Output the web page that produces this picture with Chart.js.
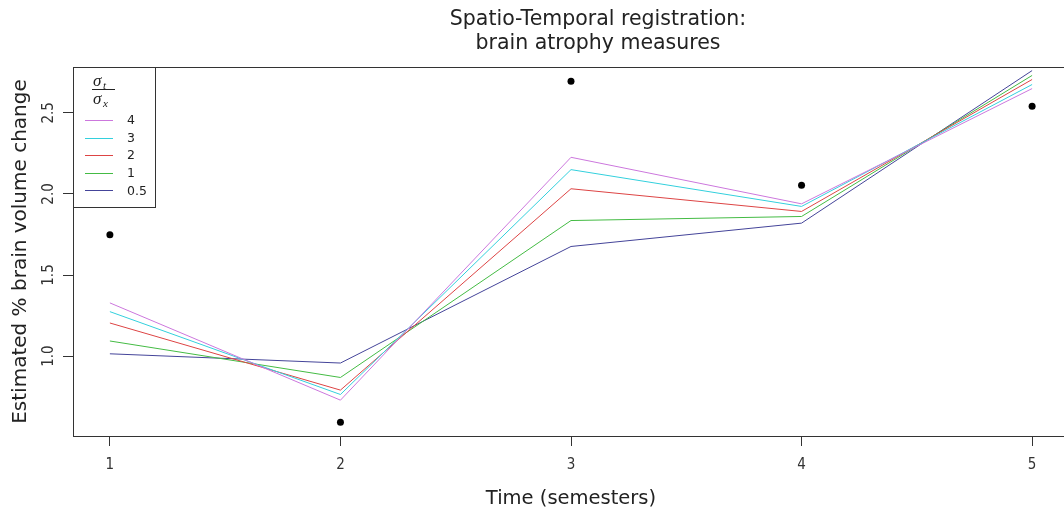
<!DOCTYPE html>
<html><head><meta charset="utf-8">
<script src="https://cdn.jsdelivr.net/npm/chart.js@4/dist/chart.umd.min.js"></script>
<style>html,body{margin:0;padding:0;overflow:hidden;background:#fff}#wrap{position:absolute;left:0;top:0;width:1070px;height:511px}canvas{display:block}</style>
</head><body><div id="wrap"><canvas id="c" width="1070" height="511" style="width:1070px;height:511px"></canvas></div>
<script>
const titleLines = ['Spatio-Temporal registration:', 'brain atrophy measures'];
const xTitle = 'Time (semesters)';
const yTitle = 'Estimated % brain volume change';
const semesters = [1, 2, 3, 4, 5];
const xTicks = [1, 2, 3, 4, 5];
const yTicks = [1.0, 1.5, 2.0, 2.5];
const observed = [1.748, 0.592, 2.695, 2.053, 2.541];
const seriesLabels = ['4', '3', '2', '1', '0.5'];
const seriesColors = ['#cc77dd', '#33d0dd', '#dd4444', '#44bb44', '#444499'];
const s4  = [1.328, 0.728, 2.226, 1.939, 2.650];
const s3  = [1.274, 0.763, 2.150, 1.923, 2.675];
const s2  = [1.204, 0.790, 2.032, 1.892, 2.706];
const s1  = [1.093, 0.868, 1.836, 1.861, 2.731];
const s05 = [1.014, 0.957, 1.676, 1.820, 2.761];
const seriesValues = [s4, s3, s2, s1, s05];

const pts = vals => vals.map((v, i) => ({x: semesters[i], y: v}));

const datasets = seriesValues.map((vals, k) => ({
  label: seriesLabels[k], data: pts(vals), showLine: true, tension: 0,
  borderColor: seriesColors[k], borderWidth: 1, pointRadius: 0, fill: false
}));
datasets.push({
  label: 'observed', data: pts(observed), showLine: false,
  pointRadius: 3.5, pointBackgroundColor: '#000', pointBorderWidth: 0, borderColor: '#000'
});

const FONT = '"DejaVu Sans", sans-serif';
const NARROW = '"Liberation Sans Narrow", "DejaVu Sans Condensed", sans-serif';

const decor = {
  id: 'decor',
  afterDraw(chart) {
    const {ctx, chartArea: a} = chart;
    ctx.save();
    // title
    ctx.fillStyle = '#222';
    ctx.font = '20.5px ' + FONT;
    ctx.textAlign = 'center';
    ctx.textBaseline = 'alphabetic';
    ctx.fillText(titleLines[0], 598, 25);
    ctx.fillText(titleLines[1], 598, 49);
    // legend box
    const lx = a.left, ly = a.top, lw = 82, lh = 140;
    ctx.fillStyle = '#fff';
    ctx.fillRect(lx, ly, lw, lh);
    ctx.strokeStyle = '#333';
    ctx.lineWidth = 1;
    ctx.strokeRect(lx + 0.5, ly + 0.5, lw, lh);
    // fraction sigma_t / sigma_x
    ctx.fillStyle = '#222';
    ctx.textAlign = 'left';
    ctx.font = 'italic 17px "Liberation Serif", serif';
    ctx.fillText('σ', 93, 86);
    ctx.fillText('σ', 93, 104);
    ctx.font = 'italic 11px "Liberation Serif", serif';
    ctx.fillText('t', 103, 89);
    ctx.fillText('x', 103, 107);
    ctx.beginPath();
    ctx.moveTo(92, 89.5); ctx.lineTo(115, 89.5);
    ctx.strokeStyle = '#222';
    ctx.stroke();
    // entries
    ctx.font = '12.5px ' + FONT;
    ctx.textBaseline = 'middle';
    seriesLabels.forEach((lab, k) => {
      const y = 120 + k * 17.6;
      ctx.beginPath();
      ctx.moveTo(85, Math.round(y) + 0.5); ctx.lineTo(113, Math.round(y) + 0.5);
      ctx.strokeStyle = seriesColors[k];
      ctx.stroke();
      ctx.fillStyle = '#222';
      ctx.fillText(lab, 127, y + 1);
    });
    // plot box
    ctx.strokeStyle = '#333';
    ctx.strokeRect(a.left + 0.5, a.top + 0.5, a.right - a.left, a.bottom - a.top);
    ctx.restore();
  }
};

new Chart(document.getElementById('c'), {
  type: 'scatter',
  data: {datasets},
  options: {
    responsive: false, animation: false, devicePixelRatio: 1,
    layout: {autoPadding: false, padding: {top: 67, right: 1, left: 0, bottom: 0}},
    plugins: {legend: {display: false}, tooltip: {enabled: false}, title: {display: false}},
    scales: {
      x: {
        type: 'linear', min: 0.84, max: 5.16,
        afterBuildTicks: s => { s.ticks = xTicks.map(v => ({value: v})); },
        afterFit: s => { s.height = 75; },
        grid: {display: true, drawOnChartArea: false, drawTicks: true, tickLength: 10, color: '#333', tickColor: '#333'},
        border: {display: false},
        ticks: {padding: 10, color: '#333', font: {family: NARROW, size: 15}, maxRotation: 0, autoSkip: false, callback: v => String(v)},
        title: {display: true, text: xTitle, color: '#222', font: {family: FONT, size: 19.5}, padding: {top: 0, bottom: 0}}
      },
      y: {
        type: 'linear', min: 0.507, max: 2.783,
        afterBuildTicks: s => { s.ticks = yTicks.map(v => ({value: v})); },
        afterFit: s => { s.width = 73; },
        grid: {display: true, drawOnChartArea: false, drawTicks: true, tickLength: 10, color: '#333', tickColor: '#333'},
        border: {display: false},
        ticks: {minRotation: 90, maxRotation: 90, crossAlign: 'center', padding: 3, color: '#333', font: {family: NARROW, size: 15}, autoSkip: false, callback: v => v.toFixed(1)},
        title: {display: true, text: yTitle, color: '#222', font: {family: FONT, size: 20}, padding: {top: 9, bottom: 0}}
      }
    }
  },
  plugins: [decor]
});
</script></body></html>
